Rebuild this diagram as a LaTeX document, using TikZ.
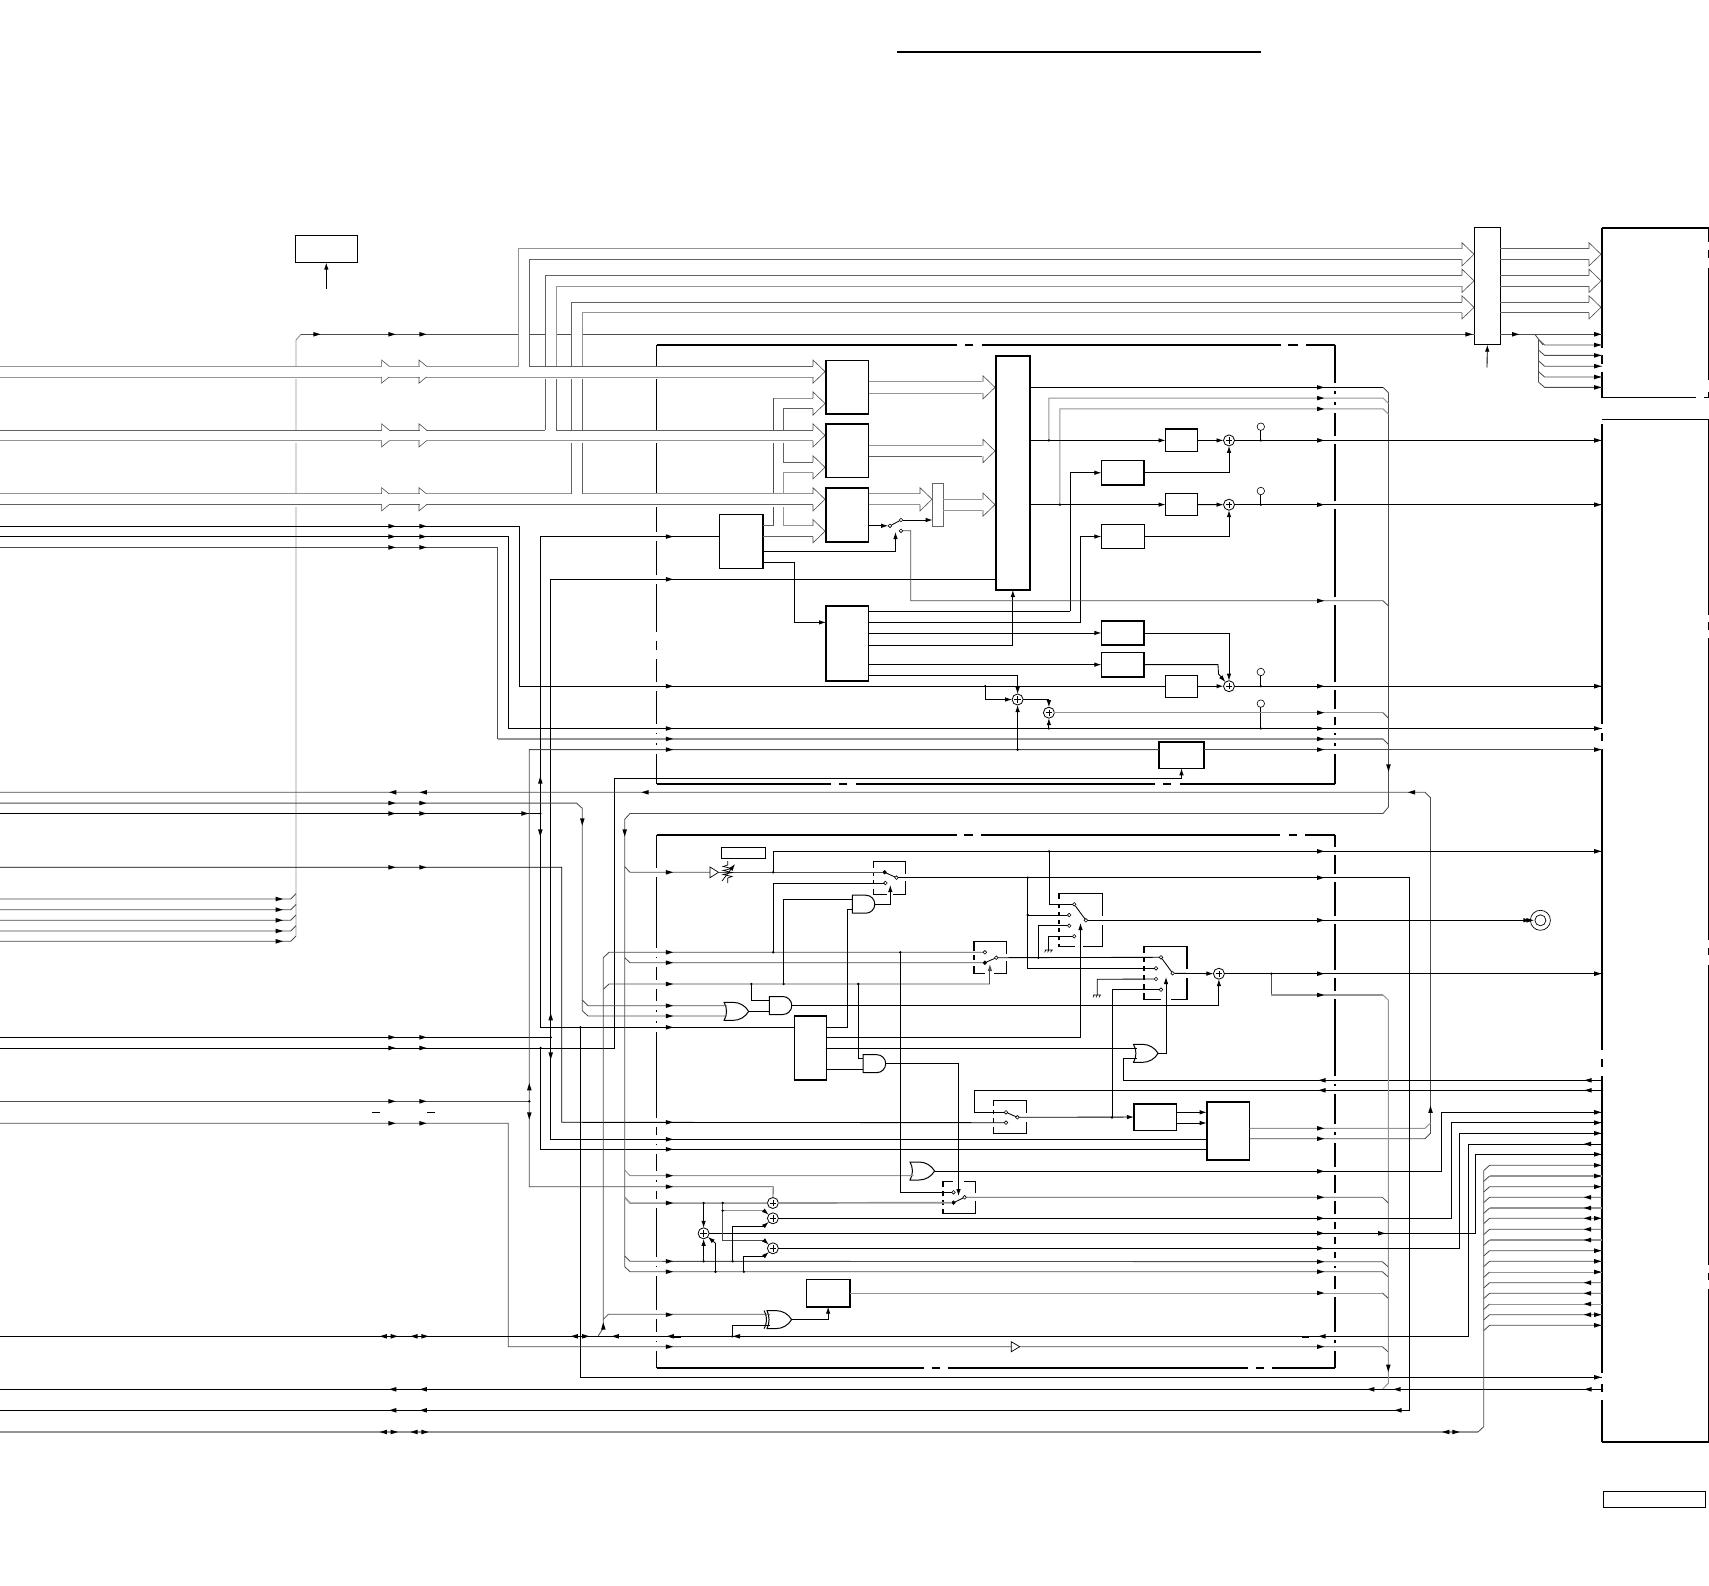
\documentclass[tikz,border=0pt]{standalone}
\usepackage{amsmath}
\usepackage{tikz}
\usetikzlibrary{arrows.meta}
\usetikzlibrary{shapes.gates.logic.US}

\begin{document}
\begin{tikzpicture}[x=1pt,y=-1pt,
  >={Latex[length=7pt,width=4.5pt]},
  wire/.style={draw=black,line width=.85pt},
  wirek/.style={draw=black,line width=1.15pt},
  wired/.style={draw=black!70,line width=.85pt},
  wireg/.style={draw=black!42,line width=.95pt},
  wireh/.style={draw=black!42,line width=1.7pt},
  rail/.style={draw=black!62,line width=.9pt},
  blk/.style={draw,line width=.9pt,inner sep=0,outer sep=0},
  blkh/.style={draw,line width=1.6pt,inner sep=0,outer sep=0},
  gate/.style={draw,line width=1pt,inner sep=0,outer sep=0,logic gate inputs=nn,
    logic gate input sep=5pt,minimum height=15pt,minimum width=17pt},
  sumnode/.style={circle,draw,line width=.8pt,fill=white,inner sep=0,outer sep=0,minimum size=11pt,
    path picture={\draw (path picture bounding box.center) +(-3.2,0) -- +(3.2,0) +(0,-3.2) -- +(0,3.2);}},
  cont/.style={circle,draw,line width=.6pt,fill=white,inner sep=0,outer sep=0,minimum size=3.6pt},
  contf/.style={cont,fill=black},
  testpt/.style={circle,draw,line width=.6pt,inner sep=0,outer sep=0,minimum size=7.5pt},
  swbox/.style={draw,line width=1.5pt},
  gapw/.style={draw=white,line width=3pt},
  tipr/.pic={\fill (-3.6,-2.3) -- (3.6,0) -- (-3.6,2.3) -- cycle;},
  tipl/.pic={\fill (3.6,-2.3) -- (-3.6,0) -- (3.6,2.3) -- cycle;},
  tipu/.pic={\fill (-2.3,3.6) -- (0,-3.6) -- (2.3,3.6) -- cycle;},
  tipd/.pic={\fill (-2.3,-3.6) -- (0,3.6) -- (2.3,-3.6) -- cycle;},
  bushead/.pic={\filldraw[fill=white,draw=black!70,line width=.6pt] (-12,-5.4) -- (-12,-11.6) -- (0,0) -- (-12,11.6) -- (-12,5.4);},
  busmark/.pic={\draw[white,line width=1.6pt] (.6,-5.4) -- (6.9,-5.4) (.6,5.4) -- (6.9,5.4);
    \draw[black!70,line width=.6pt] (0,-5.4) -- (0,-11.6) -- (7.5,-5.4) (0,5.4) -- (0,11.6) -- (7.5,5.4);},
  gnd/.pic={\draw[line width=.6pt] (-4,0) -- (4,0) (-3,0) -- (-4.2,2.4) (0,0) -- (-1.2,2.4) (3,0) -- (1.8,2.4);}]
\useasboundingbox (0,0) rectangle (1709,1586);

\foreach \n/\y in {a/526.2,b/536.6,c/547.4,d/792.3,e/803.1,f/813.5,g/867.3,h/899,i/909.7,j/920.3,k/931,l/941.3,m/1037.3,n/1048,o/1101.3,p/1123.3,q/1336.3,r/1389.3,s/1410.3,t/1432}
  \coordinate (in\n) at (0,\y);
\foreach \n/\y in {1/1112.3,2/1122.7,3/1133.3,4/1144,5/1154.3,6/1165.3,7/1176,8/1186.7,9/1197.3,10/1208,11/1218.3,12/1229.3,13/1240,14/1250.7,15/1261.3,16/1272,17/1282.7,18/1293.3,19/1304,20/1314.7,21/1325.3}
  \coordinate (pin\n) at (1602,\y);

\node (panelA) [inner sep=0,outer sep=0,minimum width=107pt,minimum height=170pt] at (1655.5,313) {};
\node (panelB) [inner sep=0,outer sep=0,minimum width=107pt,minimum height=1023pt] at (1655.5,930.8) {};
\node (refbox) [blk] [minimum width=61.8pt,minimum height=27.4pt] at (326.3,248.9) {};
\node (mux) [blk] [minimum width=25.7pt,minimum height=116.9pt] at (1487.35,286.25) {};
\node (seqbox) [blkh] [minimum width=43.3pt,minimum height=53.9pt] at (741.05,541.55) {};
\node (procA) [blkh] [minimum width=42.6pt,minimum height=53.9pt] at (847.3,387.35) {};
\node (procB) [blkh] [minimum width=42.6pt,minimum height=53.5pt] at (847.3,450.95) {};
\node (procC) [blkh] [minimum width=42.6pt,minimum height=54pt] at (847.3,515) {};
\node (procD) [blkh] [minimum width=42.6pt,minimum height=75pt] at (847.3,643.3) {};
\node (matrix) [blkh] [minimum width=34.3pt,minimum height=234.1pt] at (1012.85,472.95) {};
\node (gainA) [blkh] [minimum width=31.8pt,minimum height=22.4pt] at (1181.4,440.4) {};
\node (gainB) [blkh] [minimum width=31.8pt,minimum height=21.9pt] at (1181.4,504.6) {};
\node (gainC) [blk] [minimum width=31.8pt,minimum height=21.6pt] at (1181.4,686.2) {};
\node (corA) [blkh] [minimum width=42.8pt,minimum height=24.1pt] at (1122.8,472.75) {};
\node (corB) [blk] [minimum width=42.8pt,minimum height=24.1pt] at (1122.8,536.55) {};
\node (corC) [blkh] [minimum width=42.8pt,minimum height=24.5pt] at (1122.8,632.95) {};
\node (corD) [blkh] [minimum width=42.8pt,minimum height=24.1pt] at (1122.8,664.65) {};
\node (latch) [blkh] [minimum width=45pt,minimum height=26.3pt] at (1181.5,755.15) {};
\node (labelbox) [blk] [minimum width=44pt,minimum height=11pt] at (743.6,852.8) {};
\node (decoder) [blkh] [minimum width=32.1pt,minimum height=64.3pt] at (810.35,1047.85) {};
\node (regbox) [blkh] [minimum width=42.5pt,minimum height=26.6pt] at (1155.15,1117) {};
\node (arith) [blkh] [minimum width=42.9pt,minimum height=58.3pt] at (1228.15,1130.85) {};
\node (parity) [blkh] [minimum width=43.3pt,minimum height=27.4pt] at (828.15,1293) {};
\node (tagbox) [blk] [minimum width=102.5pt,minimum height=16pt] at (1654.65,1499.3) {};
\node (coax) [circle,draw,line width=.7pt,inner sep=0,outer sep=0,minimum size=20pt] at (1540.4,920.3) {};
\draw[line width=.7pt] (coax.center) circle (5.5);

\node (andA) [and gate US,gate] at (862.8,904.2) {};
\node (andB) [and gate US,gate] at (779.8,1005.5) {};
\node (andC) [and gate US,gate] at (873.7,1063.65) {};
\node (orA) [or gate US,gate] at (734.6,1011.35) {};
\node (orB) [or gate US,gate] at (1144,1053.35) {};
\node (orC) [or gate US,gate] at (920.5,1171) {};
\node (xorA) [xor gate US,gate] at (777.5,1319.6) {};

\foreach \n/\x/\y in {A/1229/440.4,B/1229/504.7,C/1229/686.2,D/1017.6/699.5,F/1048.9/712.7,G/1218.9/973.7,H/772.9/1203,I/772.9/1218.3,J/703.6/1233.3,K/772.9/1248.3}
  \node (sum\n) [sumnode] at (\x,\y) {};
\foreach \n/\y in {A/426.7,B/491,C/672,D/703.6}
  \node (tp\n) [testpt] at (1260.8,\y) {};

\draw[line width=1.9pt] (897,51.7) -- (1261,51.7);

\draw[line width=.9pt] (656.5,345) -- (656.5,783.6);
\draw[line width=2pt] (1334.8,345) -- (1334.8,783.6);
\draw[line width=.9pt] (656.5,835) -- (656.5,1367.7);
\draw[line width=2pt] (1334.8,835) -- (1334.8,1367.7);
\foreach \y in {536.6,579.3,636,654,686.2,728.5,738.9,749.6,872.3,952.3,962.7,984,1005.7,1016,1027.3,1122.3,1139.3,1149.3,1175.7,1186.7,1203,1261.3,1271.7,1314.7,1336.3,1346.7}
  \draw[gapw] (656.5,\y-4.5) -- (656.5,\y+4.5);
\foreach \y in {387.4,398.1,408.9,440.4,504.7,600.8,686.2,712.7,728.5,738.9,749.6,851.3,877.7,920.3,973.7,995,1080.3,1090.3,1128.3,1138.7,1171.3,1197.3,1218.3,1233.3,1248.3,1261.7,1271.7,1293,1336.3,1346.7}
  \draw[gapw,line width=4pt] (1334.8,\y-4) -- (1334.8,\y+4);
\foreach \a/\b/\c in {345/656.5/956.8,345/965/973,345/981.5/1281,345/1288/1297.6,345/1305.8/1334.8,783.6/656.5/831,783.6/839/847,783.6/855.5/1154.6,783.6/1162.8/1170.5,783.6/1180.3/1334.8,835/656.5/956.6,835/964/973,835/981/1280.4,835/1288.5/1297,835/1305/1334.8,1367.7/656.5/924,1367.7/931.7/940,1367.7/947.8/1247.6,1367.7/1256/1264.3,1367.7/1271.7/1334.8}
  \draw[line width=1.9pt] (\b,\a) -- (\c,\a);

\foreach \a/\b in {228/347.6,355/364,371.8/398,424/724,732.8/741,749.4/1050.4,1058.7/1067,1076/1373.3,1384/1391.7,1400/1442}
  \draw[line width=2.1pt] (panelA.west |- 0,\a) -- (panelA.west |- 0,\b);
\foreach \a/\b in {228/242,250/258,268/380,392/398,419.6/615,622/630,638/940,948/955,965/1265,1273/1280,1289/1442}
  \draw[line width=1.4pt] (panelA.east |- 0,\a) -- (panelA.east |- 0,\b);
\draw[line width=1.5pt] (panelA.west |- 0,228) -- (panelA.east |- 0,228);
\draw[line width=1pt] (panelA.west |- 0,398) -- (1696,398) (1704,398) -- (panelA.east |- 0,398);
\draw[line width=1pt] (panelB.west |- 0,419.6) -- (panelB.east |- 0,419.6);
\draw[line width=1.2pt] (panelB.west |- 0,1442) -- (panelB.east |- 0,1442);

\draw[swbox] (873.5,861.3) rectangle (905.7,894.3);
\draw[swbox] (973.8,941.7) rectangle (1006.3,973.3);
\draw[swbox] (1059.2,893.7) rectangle (1102.6,946.7);
\draw[swbox] (1143.8,946.3) rectangle (1186.8,999.7);
\draw[swbox] (993.7,1100.7) rectangle (1026.6,1133.3);
\draw[swbox] (942.8,1181.3) rectangle (975.3,1213.3);
\foreach \a/\b/\c/\d in {905.7/874/905.7/881,886.5/894.3/892.5/894.3,873.5/868/873.5/872,873.5/876/873.5/880,873.5/884/873.5/889,
  1006.3/954/1006.3/961,985/973.3/994/973.3,973.8/951/973.8/955,973.8/960/973.8/966,
  1102.6/916/1102.6/925,1075/946.7/1083/946.7,1059.2/899/1059.2/904,1059.2/908/1059.2/912,1059.2/916/1059.2/920,1059.2/924/1059.2/928,1059.2/932/1059.2/936,1059.2/940/1059.2/944,
  1186.8/969/1186.8/978,1161/999.7/1171/999.7,1143.8/953/1143.8/957,1143.8/962/1143.8/966,1143.8/971/1143.8/975,1143.8/980/1143.8/984,1143.8/989/1143.8/993,
  1026.6/1113/1026.6/1122,993.7/1106/993.7/1110,993.7/1114/993.7/1118,993.7/1123/993.7/1127,
  975.3/1193/975.3/1201,953/1181.3/964/1181.3,942.8/1187/942.8/1191,942.8/1196/942.8/1200,942.8/1205/942.8/1209}
  \draw[gapw] (\a,\b) -- (\c,\d);

\foreach \n/\x/\y/\s in {swAa/884.6/872.3/contf,swAb/885.4/883/cont,swAc/896.5/877.7/cont,
  swBa/984.9/952.3/cont,swBb/984.9/962.7/contf,swBc/996.3/957.7/cont,
  swCa/1074.2/904.3/cont,swCb/1069.2/915/cont,swCd/1069.2/925.7/cont,swCe/1074.2/936.3/cont,swCc/1085.9/920.3/cont,
  swDa/1161/957.3/cont,swDb/1156/968.3/cont,swDd/1156/979/cont,swDe/1161/989.7/cont,swDc/1172.7/973.3/cont,
  swEa/1006/1112.3/cont,swEb/1006/1122.7/cont,swEc/1017.4/1117.3/cont,
  swFa/953.5/1192.3/cont,swFb/953.5/1202.7/contf,swFc/964.6/1197.3/cont,
  swGa/890/525.8/cont,swGb/901/520/cont,swGc/901/530.8/cont}
  \node (\n) [\s] at (\x,\y) {};
\foreach \a/\b in {swAa/swAc,swBb/swBc,swCa/swCc,swDa/swDc,swEa/swEc,swFb/swFc,swGa/swGb}
  \draw[wire] (\a) -- (\b);

\draw[wireg] (296,935.7) -- (296,340) -- (301,334.3);
\draw[wired] (301,334.3) -- (mux.west |- 0,334.3);
\draw[wired] (773.6,525.8) -- (773.6,398.1);
\draw[rail] (762.7,525.8) -- (773.6,525.8);

\fill[white] (518.8,248.9) rectangle (529.6,366.2);
\fill[white] (545.3,275.4) rectangle (556.2,430);
\fill[white] (571.4,302) rectangle (582.8,493.9);
\draw[rail] (545.3,379) -- (545.3,275.4) -- (1462,275.4);
\draw[wireg] (1462,286.2) -- (556.2,286.2) -- (556.2,379);
\draw[rail] (571.4,379) -- (571.4,302) -- (1462,302);
\draw[wireg] (1462,312.7) -- (582.8,312.7) -- (582.8,379);
\draw[rail] (545.3,379) -- (545.3,430);
\draw[rail] (556.2,379) -- (556.2,430);
\draw[rail] (571.4,379) -- (571.4,493.9);
\draw[rail] (582.8,379) -- (582.8,493.9);
\draw[wireg] (773.6,398.1) -- (813,398.1);
\draw[rail] (813,408.9) -- (783.9,408.9) -- (783.9,462) -- (813,462);
\draw[wireg] (813,472.7) -- (783.9,472.7) -- (783.9,525.8) -- (813,525.8);

\fill[white] (0,366.2) rectangle (518.8,379);
\fill[white] (529.6,366.2) rectangle (813,379);
\fill[white] (518.8,372) rectangle (529.6,379);
\fill[white] (0,430) rectangle (813,443);
\fill[white] (0,493.9) rectangle (813,507);

\draw[wireh,line width=1.1pt] (0,366.2) -- (518.8,366.2) -- (518.8,248.9) -- (1462,248.9);
\draw[rail] (1462,259.7) -- (529.6,259.7) -- (529.6,366.2) -- (813,366.2);
\draw[wireg] (0,377) -- (813,377);
\draw[rail] (0,430) -- (545.3,430);
\draw[rail] (556.2,430) -- (813,430);
\draw[wireg] (0,440.8) -- (813,440.8);
\draw[wireg] (0,493.9) -- (571.4,493.9);
\draw[wireg] (582.8,493.9) -- (813,493.9);
\draw[rail] (0,504.7) -- (813,504.7);
\draw[rail] (762.7,536.6) -- (813,536.6);
\draw[wireg] (procA.east |- 0,381.6) -- (982,381.6);
\draw[wireg] (procA.east |- 0,393.2) -- (982,393.2);
\draw[wireg] (procB.east |- 0,445.4) -- (982,445.4);
\draw[rail] (procB.east |- 0,456.6) -- (982,456.6);
\draw[wireg] (procC.east |- 0,493.9) -- (920,493.9);
\draw[wireg] (procC.east |- 0,504.7) -- (920,504.7);
\node (tbox) [blk,draw=black!60,fill=white] [minimum width=10.3pt,minimum height=43.1pt] at (937.85,505.05) {};
\draw[wireg] (tbox.east |- 0,499.3) -- (982,499.3);
\draw[wireg] (tbox.east |- 0,510) -- (982,510);
\foreach \y in {248.9,259.7,275.4,286.2,302,312.7} {
  \draw[rail] (mux.east |- 0,\y) -- (1590,\y);
}
\foreach \x/\y in {825/371.6,825/403.5,825/435.4,825/467.35,825/499.3,825/531.2,932/499.3,995/387.4,995/451,995/504.65,1474/254.3,1474/280.8,1474/307.35,1601/254.3,1601/280.8,1601/307.35}
  \pic at (\x,\y) {bushead};
\foreach \y in {371.6,435.4,499.3}
  \foreach \x in {381.6,419}
    \pic at (\x,\y) {busmark};

\draw[wire,->] (326.3,289.5) -- (refbox.south);
\draw[wire,->] (1487,367.5) -- (mux.south);
\draw[wired] (mux.east |- 0,334.3) -- (panelA.west |- 0,334.3);
\draw[wired] (1534.8,334.3) -- (1543,345);
\draw[wired] (1538.6,339.7) -- (1538.6,382.1);
\foreach \y in {345,355.4,366.2,377,387.4}
  \draw[wired] (1538.6,\y-5.3) -- (1544.6,\y) -- (panelA.west |- 0,\y);
\foreach \n in {h,i,j,k,l}
  \draw[wired] (in\n) -- ++(290.7,0) -- ++(5.3,-5.3);

\draw[wirek] (ina) -- (519.3,526.2) -- (519.3,686.2) -- (gainC);
\draw[wire] (inb) -- (508.5,536.6) -- (508.5,728.5) -- (panelB.west |- 0,728.5);
\draw[wired] (inc) -- (497.6,547.4) -- (497.6,738.9);
\draw[wireh] (497.6,738.9) -- (1383,738.9);
\draw[wired] (1383,738.9) -- (1388.3,744.3);
\draw[wire] (decoder.west |- 0,1027.3) -- (540.3,1027.3) -- (540.3,536.6) -- (seqbox.west |- 0,536.6);
\draw[wire] (inf) -- (540.3,813.5);
\draw[wire] (matrix.west |- 0,579.3) -- (550.7,579.3) -- (550.7,1139.3) -- (arith.west |- 0,1139.3);
\draw[wire] (inm) -- (550.7,1037.3);
\draw[wire,->] (inn) -- (614.8,1048) -- (614.8,778.2) -| (latch.south);
\draw[wire] (540.6,1048) -- (540.6,1149.3) -- (arith.west |- 0,1149.3);
\draw[wired] (ino) -- (529.3,1101.3);
\draw[wired] (latch.west |- 0,749.6) -- (529.3,749.6) -- (529.3,1186.7) -- (773.2,1186.7) -- (sumH);
\draw[wired] (latch.east |- 0,749.6) -- (panelB.west |- 0,749.6);
\draw[wire] (ing) -- (561.7,867.3) -- (561.7,1122.3) -- (swEb);
\draw[wire] (580.3,1027.3) -- (580.3,1377.3) -- (panelB.west |- 0,1377.3);
\draw[wired] (inp) -- (508.3,1123.3) -- (508.3,1346.7) -- (1382.4,1346.7) -- (1388.2,1352);
\filldraw[fill=white,draw=black,line width=.7pt] (1011.3,1341.7) -- (1019.7,1346.7) -- (1011.3,1351.7) -- cycle;
\draw[wired] (ine) -- (576.5,803.1) -- (582.3,808.3) -- (582.3,1000) -- (588,1005.7) -- (726.6,1005.7);
\draw[wired] (582.3,1000) -- (582.3,1010.7) -- (588,1016) -- (726.6,1016);
\draw[wired] (ind) -- (1425,792.3) -- (1430.5,797.7) -- (1430.5,1133.3) -- (1425,1138.7) -- (arith.east |- 0,1138.7);
\draw[wireg] (1430.5,1123) -- (1425,1128.3) -- (arith.east |- 0,1128.3);
\draw[wired] (1388.5,392.7) -- (1388.5,807) -- (1383,813.5) -- (630,813.5) -- (624.7,819.3) -- (624.7,1266.7) -- (630,1271.7) -- (1382.4,1271.7) -- (1388.3,1277);
\draw[wired] (624.7,866.7) -- (630,872.3) -- (710,872.3);
\draw[wired] (624.7,957.7) -- (630,962.7) -- (swBb);
\draw[wireg] (624.7,1170) -- (630,1175.7) -- (913.5,1175.7);
\draw[wireh,line width=1.5pt] (624.7,1197.3) -- (630,1203) -- (sumH);
\draw[wired] (624.7,1256) -- (630,1261.3) -- (1382.4,1261.7) -- (1388.3,1267);
\draw[wired] (603.3,1328) -- (603.3,957.7) -- (609,952.3) -- (swBa);
\draw[wired] (603.3,989.3) -- (609,984) -- (989.9,984);
\draw[wired,->] (989.9,984) -- (989.9,964);
\draw[wired] (598.3,1335.7) -- (603.3,1328);
\draw[wired] (603.3,1319.3) -- (608.3,1314.3) -- (770,1314.3);

\filldraw[fill=white,draw=black,line width=.7pt] (710,867) -- (718.5,872.3) -- (710,877.7) -- cycle;
\draw[wired] (718.5,872.3) -- (swAa);
\draw[line width=.7pt] (727.7,861) -- (727.7,865) -- (723,866.5) -- (732,868.5) -- (723,870.5) -- (732,872.5) -- (723,874.5) -- (732,876.5) -- (727.7,878) -- (727.7,883);
\draw[line width=.7pt,->] (722,881) -- (735,864);
\draw[wire] (773.2,872.3) -- (773.2,851.3) -- (panelB.west |- 0,851.3);
\draw[wire] (1049,851.3) -- (1049,904.3) -- (swCa);
\draw[wire] (swAb) -- (773.2,883) -- (773.2,952.3);
\draw[wire] (swAc) -- (1409.7,877.7) -- (1409.7,1410.3) -- (ins);
\draw[wire] (783.6,984) |- (andA.west |- 0,899.3);
\draw[wire] (decoder.east |- 0,1027.3) -- (847.5,1027.3) |- (andA.west |- 0,909.3);
\draw[wire,->] (andA.output) -| (890.3,885);
\draw[wire] (751.4,984) |- (andB.west |- 0,1000.5);
\draw[wire] (orA.output) -- (andB.west |- orA.output);
\draw[wire,->] (andB.output) -| (sumG);
\draw[wire] (858.2,984) |- (andC.west |- 0,1058.6);
\draw[wire] (decoder.east |- 0,1069.3) -- (andC.west |- 0,1069.3);
\draw[wire,->] (andC.output) -| (958.5,1196);
\draw[wire] (decoder.east |- 0,1037.3) -- (1080.5,1037.3);
\draw[wire,->] (1080.5,1037.3) -- (1080.5,923);
\draw[wire] (decoder.east |- 0,1048.3) -- (1137,1048.3);
\draw[wire,->] (orB.output) -| (1166,977);
\draw[wire] (panelB.west |- 0,1080.3) -- (1123.5,1080.3) |- (1137,1058.3);
\draw[wire] (panelB.west |- 0,1090.3) -- (974.5,1090.3) |- (swEa);
\draw[wire,->] (swEc) -- (regbox);
\draw[wire] (1112,1117.5) |- (swDe);
\draw[wire,->] (regbox.east |- 0,1112.3) -- (arith.west |- 0,1112.3);
\draw[wire,->] (regbox.east |- 0,1123) -- (arith.west |- 0,1123);
\draw[wire] (1027.7,877.7) -- (1027.7,968.3) -- (swDb);
\draw[wire] (1027.7,915) -- (swCb);
\draw[wire] (swCd) -- (1038.4,925.7) -- (1038.4,957.7);
\draw[wire] (swBc) -- (swDa);
\draw[wire] (swCe) -- (1048.8,936.3) -- (1048.8,950);
\pic at (1048.8,950) {gnd};
\draw[wire] (swDd) -- (1097.2,979.3) -- (1097.2,995);
\pic at (1097.2,995) {gnd};
\draw[wire,->] (swCc) -- (coax);
\draw[wire,->] (swDc) -- (sumG);
\draw[wire] (sumG) -- (panelB.west |- sumG);
\draw[wired] (1271.3,973.7) -- (1271.3,995);
\draw[wireh] (1271.3,995) -- (1383,995);
\draw[wireg] (1383,995) -- (1388.3,1000) -- (1388.3,1383.3) -- (1382.4,1389.3);
\draw[wire] (900.3,952.3) -- (900.3,1192.3) -- (swFa);
\draw[wired] (swFc) -- (1382.4,1197.3) -- (1388.2,1203);
\draw[wire] (orC.output) -- (1441.4,1171) -- (1441.4,1112.3) -- (pin1);
\draw[wireh] (sumH) -- (swFb);
\draw[wire] (sumI) -- (1451.5,1218.3) -- (1451.5,1122.7) -- (pin2);
\draw[wire] (sumJ) -- (1475.6,1233.3) -- (1475.6,1154.3) -- (pin5);
\draw[wire] (sumK) -- (1459.7,1248.3) -- (1459.7,1133.3) -- (pin3);
\draw[wired] (722.7,1203) -- (722.7,1240.3) -- (764,1240.3);
\draw[wireg] (722.7,1210.7) -- (764,1210.7);
\draw[wire,->] (764,1210.7) -- (sumI);
\draw[wire] (732.7,1261.3) -- (732.7,1226) -- (764,1226);
\draw[wire,->] (764,1226) -- (sumI);
\draw[wire,->] (764,1240.3) -- (sumK);
\draw[wire] (743.8,1271.7) -- (743.8,1256.3) -- (764,1256.3);
\draw[wire,->] (764,1256.3) -- (sumK);
\draw[wire,->] (703.6,1203) -- (sumJ);
\draw[wire,->] (703.6,1261.3) -- (sumJ);
\draw[wire] (715.5,1271.7) -- (715.5,1243.3);
\draw[wire,->] (715.5,1243.3) -- (sumJ);
\draw[wire] (732.3,1336.3) |- (770,1325);
\draw[wire,->] (xorA.output) -| (parity.south);
\draw[wireg] (parity.east) -- (1382.4,1293);
\draw[wired] (1382.4,1293) -- (1388.2,1298.3);
\draw[wire] (inq) -- (1468.2,1336.3) -- (1468.2,1144) -- (pin4);
\draw[wire] (inr) -- (panelB.west |- inr);
\draw[wireh] (int) -- (1478,1432);
\draw[wired] (1478,1432) -- (1483.7,1426.7) -- (1483.7,1170.6);
\foreach \n in {6,8,9,11,12,14,15,17,18,20,21}
  \draw[wired] (pin\n) -- (1489.6,0 |- pin\n) -- ++(-5.9,5.3);
\foreach \n in {7,10,13}
  \draw[wireh] (pin\n) -- (1489.6,0 |- pin\n);
\foreach \n in {16,19}
  \draw[wireg] (pin\n) -- (1489.6,0 |- pin\n);
\foreach \n in {7,10,13,16,19}
  \draw[wired] (1489.6,0 |- pin\n) -- ++(-5.9,5.3);
\draw[line width=1.2pt] (674,1337.5) -- (681,1337.5) (1302,1337.5) -- (1309,1337.5);
\draw[line width=.9pt] (372.3,1112.3) -- (380,1112.3) (427.3,1112.3) -- (435,1112.3);

\draw[wirek] (matrix.east |- 0,387.4) -- (1383,387.4);
\draw[wired] (1383,387.4) -- (1388.5,392.7);
\draw[wireg] (1048.9,440.4) -- (1048.9,398.1) -- (1383,398.1) -- (1388.5,403.5);
\draw[wireg] (1059.8,504.7) -- (1059.8,408.9) -- (1383,408.9) -- (1388.5,414.3);
\draw[wire,->] (matrix.east |- gainA) -- (gainA);
\draw[wire,->] (matrix.east |- gainB) -- (gainB);
\draw[wire,->] (gainA) -- (sumA);
\draw[wire,->] (gainB) -- (sumB);
\draw[wirek,->] (gainC) -- (sumC);
\draw[wire] (sumA) -- (panelB.west |- sumA);
\draw[wire] (sumB) -- (panelB.west |- sumB);
\draw[wirek] (sumC) -- (panelB.west |- sumC);
\foreach \a in {A,B,C}
  \draw[wire] (tp\a) -- (tp\a |- sum\a);
\draw[wire] (tpD) -- (1260.8,728.5);
\draw[wirek] (procD.east |- 0,611.2) -- (1070.2,611.2);
\draw[wire,->] (1070.2,611.2) |- (corA.west);
\draw[wire] (procD.east |- 0,622.4) -- (1080.6,622.4);
\draw[wire,->] (1080.6,622.4) |- (corB.west);
\draw[wire,->] (procD.east |- corC) -- (corC);
\draw[wire,->] (procD.east |- 0,645.2) -| (matrix.south);
\draw[wire,->] (procD.east |- corD) -- (corD);
\draw[wire,->] (procD.east |- 0,675) -| (sumD);
\draw[wire,->] (corA.east) -| (sumA);
\draw[wire,->] (corB.east) -| (sumB);
\draw[wire,->] (corC.east) -| (sumC);
\draw[wire] (corD.east) -- (1218,664.65) -- (1218.5,674);
\draw[wire,->] (1218.5,674) -- (sumC);
\draw[wire,->] (985.3,686.2) |- (sumD);
\draw[wire,->] (sumD) -| (sumF);
\draw[wire,->] (1048.9,728.5) -- (sumF);
\draw[wire,->] (1017.6,749.6) -- (sumD);
\draw[wireg] (sumF) -- (1383,712.7);
\draw[wired] (1383,712.7) -- (1388.3,718);
\draw[wire,->] (procC.east |- 0,525.8) -- (swGa);
\draw[wired] (swGc) -- (910.8,530.8) -- (910.8,600.8) -- (1383,600.8) -- (1388.5,606);
\draw[wire,->] (swGb) -- (tbox.west |- swGb);
\draw[wire] (seqbox.east |- 0,551.5) -- (895.5,551.5);
\draw[wire,->] (895.5,551.5) -- (895.5,532);
\draw[wire] (seqbox.east |- 0,562.8) -- (794.7,562.8);
\draw[wire,->] (794.7,562.8) |- (procD.west |- 0,622.4);

\foreach \x/\y in {1049/851.3,1027.7/877.7,773.2/872.3,773.2/952.3,783.6/984,751.4/984,858.2/984,1027.7/915,1038.4/957.7,900.3/952.3,1112/1117.5,1271.3/973.7,703.6/1203,722.7/1203,722.7/1210.7,732.7/1261.3,703.6/1261.3,715.5/1271.7,743.8/1271.7,732.3/1336.3,580.3/1027.3,550.7/1037.3,540.3/813.5,540.6/1048,529.3/1101.3,985.3/686.2,1048.9/440.4,1059.8/504.7,1260.8/440.4,1260.8/504.7,1260.8/686.2,1260.8/728.5,1048.9/728.5,1017.6/749.6}
  \fill (\x,\y) circle (1.3);

\foreach \y in {334.3,526.2,536.6,547.4,803.1,813.5,867.3,1037.3,1048,1101.3,1123.3}
  \foreach \x in {392,423}
    \pic at (\x,\y) {tipr};
\foreach \y in {792.3,1389.3,1410.3}
  \foreach \x in {392.7,423.3}
    \pic at (\x,\y) {tipl};
\foreach \y in {1336.3,1432} {
  \foreach \x in {383.3,414}
    \pic at (\x,\y) {tipl};
  \foreach \x in {394.3,425}
    \pic at (\x,\y) {tipr};
}
\foreach \y in {899,909.7,920.3,931,941.3}
  \pic at (279.3,\y) {tipr};
\foreach \y in {536.6,579.3,686.2,728.5,738.9,749.6,872.3,952.3,962.7,984,1005.7,1016,1027.3,1122.3,1139.3,1149.3,1175.7,1186.7,1203,1261.3,1271.7,1314.7,1346.7}
  \pic at (669.5,\y) {tipr};
\foreach \y in {387.4,398.1,408.9,440.4,504.7,600.8,686.2,712.7,728.5,738.9,749.6,851.3,877.7,920.3,973.7,995,1128.3,1138.7,1171.3,1197.3,1218.3,1233.3,1248.3,1261.7,1271.7,1293,1346.7}
  \pic at (1320.6,\y) {tipr};
\foreach \y in {1080.3,1090.3,1336.3}
  \pic at (1322,\y) {tipl};
\foreach \y in {334.3,345,355.4,366.2,377,387.4,440.4,504.7,686.2,728.5,749.6,851.3,973.7,1377.3}
  \pic at (1597.8,\y) {tipr};
\foreach \y in {1080.3,1090.3,1389.3}
  \pic at (1588,\y) {tipl};
\foreach \n in {1,2,3,5,6,7,8,11,14,15,16,20,21}
  \pic at (1597.8,0 |- pin\n) {tipr};
\foreach \n in {4,9,10,11,12,13,17,18,19,20}
  \pic at (1587.4,0 |- pin\n) {tipl};
\foreach \x/\y in {317/334.3,1469/334.3,1515.6/334.3,525/813.5,1381.6/1233.3,585.7/1336.3,1456/1432,1530/920.3}
  \pic at (\x,\y) {tipr};
\foreach \x/\y in {645/792.3,1411.5/792.3,574.3/1336.3,615.3/1336.3,670.3/1336.3,736.5/1336.3,1397/1389.3,1370.7/1389.3,1398/1410.3,1445.7/1432}
  \pic at (\x,\y) {tipl};
\foreach \x/\y in {1430.5/1109.3,540.3/780,550.7/1016.7,529.3/1086.7,603.3/1326}
  \pic at (\x,\y) {tipu};
\foreach \x/\y in {582.3/822,624.7/833,1388.5/768,1388.3/1368.3,540.3/833,550.7/1056,529.3/1116}
  \pic at (\x,\y) {tipd};
\end{tikzpicture}
\end{document}
